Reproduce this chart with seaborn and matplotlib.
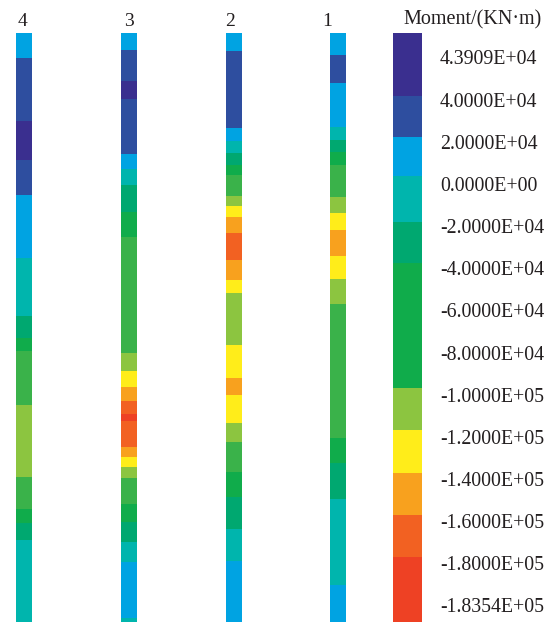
import numpy as np
import matplotlib
matplotlib.use("Agg")
import matplotlib.pyplot as plt
from matplotlib.colors import ListedColormap
import seaborn as sns

W, H = 558, 622
DPI = 100

# colour levels (index -> colour)
level_colors = ["#3A2F8F", "#2E4E9F", "#00A3E2", "#00B5AD", "#00A870", "#10AC4B",
                "#3AB24A", "#8CC540", "#FFED1A", "#F8A11E", "#F26122", "#EE4124"]

pile_names = ["4", "3", "2", "1"]

# segment boundaries along pile depth (top -> bottom) and their colour levels
pile4_edges = [33, 58, 121, 160, 195, 258, 316, 338, 351, 405, 477, 509, 523, 540, 622]
pile4_codes = [2, 1, 0, 1, 2, 3, 4, 5, 6, 7, 6, 5, 4, 3]

pile3_edges = [33, 50, 81, 99, 154, 169, 185, 212, 237, 353, 371, 387, 401, 414, 421,
               447, 457, 467, 478, 504, 522, 542, 562, 618, 622]
pile3_codes = [2, 1, 0, 1, 2, 3, 4, 5, 6, 7, 8, 9, 10, 11, 10, 9, 8, 7, 6, 5, 4, 3, 2, 3]

pile2_edges = [33, 51, 128, 141, 153, 165, 175, 196, 206, 217, 233, 260, 280, 293, 345,
               378, 395, 423, 442, 472, 497, 529, 561, 622]
pile2_codes = [2, 1, 2, 3, 4, 5, 6, 7, 8, 9, 10, 9, 8, 7, 8, 9, 8, 7, 6, 5, 4, 3, 2]

pile1_edges = [33, 55, 83, 127, 140, 152, 165, 197, 213, 230, 256, 279, 304, 438, 463, 499, 585, 622]
pile1_codes = [2, 1, 2, 3, 4, 5, 6, 7, 8, 9, 8, 7, 6, 5, 4, 3, 2]

legend_edges = [33, 96, 137, 176, 222, 263, 388, 430, 473, 515, 557, 622]
legend_codes = [0, 1, 2, 3, 4, 5, 7, 8, 9, 10, 11]

legend_labels = ["4.3909E+04", "4.0000E+04", "2.0000E+04", "0.0000E+00", "-2.0000E+04",
                 "-4.0000E+04", "-6.0000E+04", "-8.0000E+04", "-1.0000E+05", "-1.2000E+05",
                 "-1.4000E+05", "-1.6000E+05", "-1.8000E+05", "-1.8354E+05"]
legend_title = "Moment/(KN\u00b7m)"

fig = plt.figure(figsize=(W / DPI, H / DPI), dpi=DPI)
fig.patch.set_facecolor("white")
cmap = ListedColormap(level_colors)

FONT = ["Liberation Serif", "DejaVu Serif"]
TXT = "#231F20"


def strip(x0, x1, edges, codes):
    top, bot = edges[0], edges[-1]
    ax = fig.add_axes([x0 / W, 1 - bot / H, (x1 - x0) / W, (bot - top) / H])
    arr = np.repeat(codes, np.diff(edges)).reshape(-1, 1)
    sns.heatmap(arr, cmap=cmap, vmin=-0.5, vmax=len(level_colors) - 0.5, cbar=False,
                xticklabels=False, yticklabels=False, ax=ax)
    ax.set_axis_off()
    return ax


piles = [(16, 32, pile4_edges, pile4_codes), (121, 137, pile3_edges, pile3_codes),
         (226, 242, pile2_edges, pile2_codes), (330, 346, pile1_edges, pile1_codes)]
label_x = [22, 129, 230, 327]
for (x0, x1, e, c), name, lx in zip(piles, pile_names, label_x):
    strip(x0, x1, e, c)
    fig.text(lx / W, 1 - 21 / H, name, ha="center", va="center", fontsize=14,
             family=FONT, color=TXT)

strip(393, 422, legend_edges, legend_codes)
fig.text(473 / W, 1 - 20 / H, legend_title, ha="center", va="center", fontsize=14.5,
         family=FONT, color=TXT)
for i, lab in enumerate(legend_labels):
    y = 60 + i * (608 - 60) / (len(legend_labels) - 1)
    fig.text(440 / W, 1 - y / H, lab, ha="left", va="center", fontsize=14.3,
             family=FONT, color=TXT)

fig.savefig("out.png", dpi=DPI, facecolor="white")
